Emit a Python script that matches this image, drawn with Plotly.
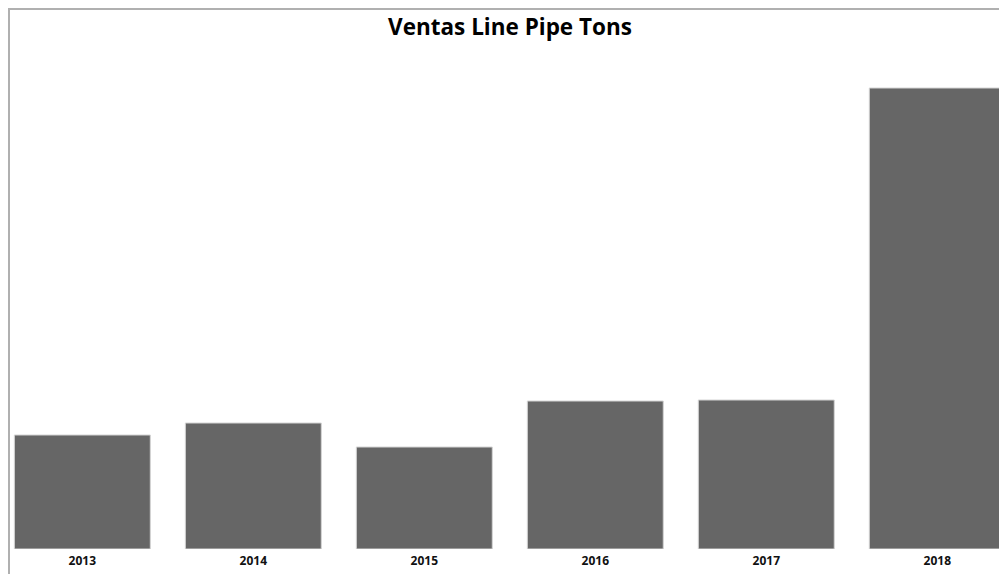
import plotly.graph_objects as go

# Yearly line pipe sales (thousand tons)
years = ["2013", "2014", "2015", "2016", "2017", "2018"]
tons = [114, 126, 102, 148, 149, 461]

W, H = 999, 574
ML, MT, MB = 10, 10, 25
plot_w = W - ML
plot_h = H - MT - MB

fig = go.Figure(
    go.Bar(
        x=years,
        y=tons,
        marker=dict(color="#666666", line=dict(color="#d4d4d4", width=1)),
        hoverinfo="x+y",
    )
)

# frame lines on the top and left edges
def px_x(p):
    return (p - ML) / plot_w

def px_y(p):
    return (H - MB - p) / plot_h

frame = dict(color="#b0b0b0", width=2)
fig.add_shape(type="line", xref="paper", yref="paper",
              x0=px_x(8), x1=px_x(1005), y0=px_y(9), y1=px_y(9), line=frame)
fig.add_shape(type="line", xref="paper", yref="paper",
              x0=px_x(9), x1=px_x(9), y0=px_y(9), y1=px_y(580), line=frame)

fig.update_layout(
    width=W,
    height=H,
    margin=dict(l=ML, r=0, t=MT, b=MB),
    paper_bgcolor="white",
    plot_bgcolor="white",
    bargap=0.205,
    showlegend=False,
    title=dict(
        text="<b>Ventas Line Pipe Tons</b>",
        x=510 / W,
        xanchor="center",
        xref="container",
        y=1 - 27 / H,
        yref="container",
        yanchor="middle",
        font=dict(family="Open Sans, Noto Sans, sans-serif", size=22.5, color="#000000"),
    ),
    xaxis=dict(
        type="category",
        range=[-0.423, 5.361],
        showgrid=False,
        zeroline=False,
        showline=False,
        ticks="",
        ticklabelstandoff=3,
        tickfont=dict(family="Open Sans, Noto Sans, sans-serif", size=12, color="#111111"),
        tickprefix="<b>",
        ticksuffix="</b>",
        fixedrange=True,
    ),
    yaxis=dict(
        range=[0, plot_h],
        visible=False,
        showgrid=False,
        zeroline=False,
        fixedrange=True,
    ),
)

fig.write_html("out.html")
